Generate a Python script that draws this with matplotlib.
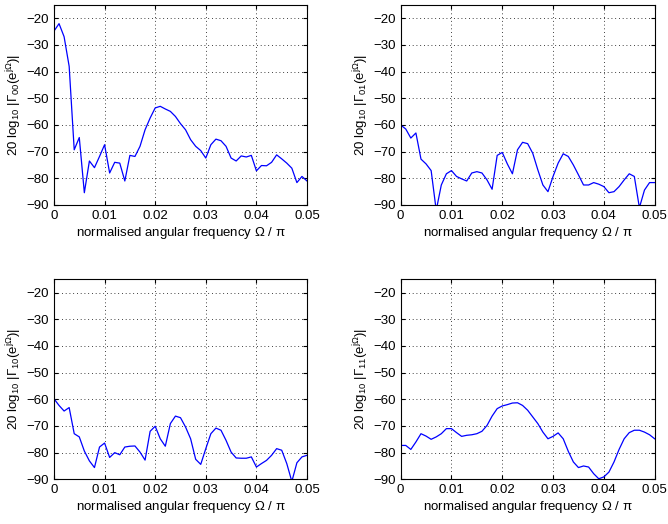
import numpy as np
import matplotlib
matplotlib.use("Agg")
import matplotlib.pyplot as plt

plt.rcParams['font.family'] = ['Liberation Sans', 'DejaVu Sans']
plt.rcParams['mathtext.fontset'] = 'custom'
plt.rcParams['mathtext.rm'] = 'Liberation Sans'
plt.rcParams['mathtext.it'] = 'Liberation Sans'

freq = [i * 0.001 for i in range(51)]

gamma00 = [-24.8, -22.0, -26.9, -38.0, -69.3, -64.7, -85.4, -73.5, -76.0, -71.8,
           -67.4, -78.0, -74.0, -74.3, -81.0, -71.4, -71.8, -68.0, -61.8, -57.4,
           -53.6, -53.0, -54.0, -54.9, -56.8, -59.5, -61.8, -65.5, -68.0, -69.6,
           -72.4, -67.4, -65.3, -65.9, -68.0, -72.4, -73.5, -71.6, -72.0, -71.4,
           -77.2, -75.2, -75.3, -74.0, -71.2, -72.7, -74.3, -76.2, -81.6, -79.3,
           -81.0]

gamma01 = [-60.0, -61.5, -64.9, -63.0, -72.8, -74.6, -77.1, -92.0, -82.5, -78.3,
           -77.1, -79.3, -80.2, -81.0, -78.0, -77.5, -78.0, -80.6, -84.1, -71.4,
           -70.3, -74.6, -78.3, -69.3, -66.5, -67.0, -70.6, -76.8, -82.5, -85.0,
           -79.3, -74.3, -70.8, -71.8, -75.0, -78.7, -82.5, -82.5, -81.6, -82.2,
           -83.1, -85.4, -85.0, -83.1, -80.6, -78.3, -79.3, -91.0, -84.4, -81.6,
           -81.6]

gamma10 = [-59.8, -62.3, -64.4, -63.1, -72.9, -74.1, -79.4, -83.1, -85.6, -77.9,
           -76.4, -81.8, -80.0, -80.8, -77.9, -77.6, -77.5, -79.8, -82.8, -72.0,
           -70.1, -74.8, -77.6, -69.1, -66.3, -66.9, -70.4, -74.8, -82.5, -84.4,
           -78.5, -72.9, -70.8, -71.6, -75.4, -79.8, -82.0, -82.1, -82.1, -81.6,
           -85.4, -84.1, -82.9, -81.0, -78.5, -79.1, -84.1, -90.8, -83.8, -81.6,
           -81.0]

gamma11 = [-77.3, -77.3, -78.8, -76.0, -72.9, -73.8, -75.0, -74.1, -72.9, -71.0,
           -71.0, -72.5, -73.9, -73.5, -73.3, -72.9, -72.0, -69.8, -66.3, -63.5,
           -62.5, -62.0, -61.4, -61.3, -62.3, -64.1, -66.6, -69.1, -72.3, -74.8,
           -73.9, -72.6, -74.8, -79.5, -83.5, -85.6, -85.0, -85.4, -87.9, -89.8,
           -89.1, -87.3, -83.5, -78.8, -74.8, -72.5, -71.6, -71.6, -72.3, -73.3,
           -74.8]

series = [gamma00, gamma01, gamma10, gamma11]
indices = ['00', '01', '10', '11']

xticks = [0, 0.01, 0.02, 0.03, 0.04, 0.05]
xticklabels = ['0', '0.01', '0.02', '0.03', '0.04', '0.05']
yticks = [-90, -80, -70, -60, -50, -40, -30, -20]

fig = plt.figure(figsize=(6.68, 5.24), dpi=100)
positions = [
    [0.0808, 0.6088, 0.3788, 0.3817],
    [0.5998, 0.6088, 0.3802, 0.3817],
    [0.0808, 0.0853, 0.3788, 0.3817],
    [0.5998, 0.0853, 0.3802, 0.3817],
]

for pos, data, idx in zip(positions, series, indices):
    ax = fig.add_axes(pos)
    ax.plot(freq, data, color=(0, 0, 1), lw=0.9)
    ax.set_xlim(0, 0.05)
    ax.set_ylim(-90, -15)
    ax.set_xticks(xticks)
    ax.set_xticklabels(xticklabels)
    ax.set_yticks(yticks)
    ax.set_yticklabels([f'\u2212{abs(v)}' for v in yticks])
    ax.grid(True, linestyle=(0, (1, 3.5)), color='black', linewidth=0.6)
    ax.tick_params(direction='in', top=True, right=True, labelsize=9.5, length=3)
    for s in ax.spines.values():
        s.set_linewidth(0.8)
    ax.set_xlabel(r'normalised angular frequency $\Omega$ / $\pi$', fontsize=9.5, labelpad=2)
    ax.set_ylabel(r'20 log$_{10}$ |$\Gamma_{' + idx + r'}$(e$^{j\Omega}$)|', fontsize=9.5, labelpad=2)

fig.savefig('out.png', dpi=100)
